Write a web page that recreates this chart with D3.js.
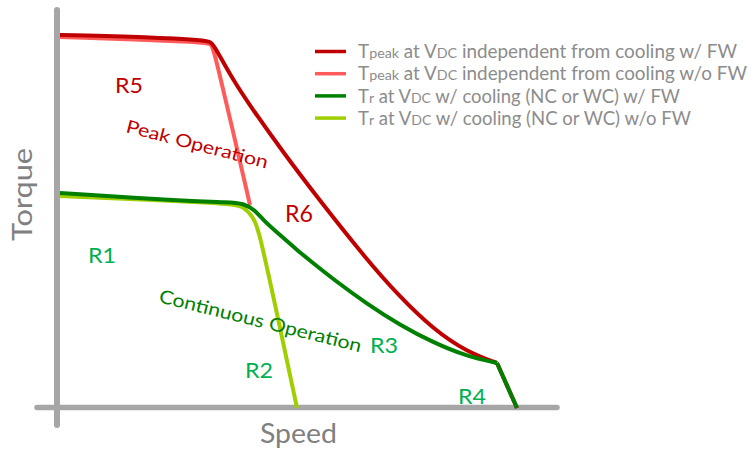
<!DOCTYPE html>
<html>
<head>
<meta charset="utf-8">
<script src="https://cdn.jsdelivr.net/npm/d3@7"></script>
<style>
  html, body { margin: 0; padding: 0; background: #ffffff; }
  svg { display: block; }
  text { font-family: Lato, "Open Sans", sans-serif; }
</style>
</head>
<body>
<svg id="chart" width="751" height="452"></svg>
<script>
// ---- data (speed, torque) in arbitrary chart units ----
const peakWithFW = [[0,373],[90,371],[145,367.7],[151,366],[155,361],[173,328],[193,298],[223,256],[257,211],[307,148],[340,111],[373,79],[407,56],[437,45],[457,0]];
const peakWithoutFW = [[0,371],[145,366],[151,364],[154,359],[190,203]];
const ratedWithFW = [[0,215],[120,207.3],[170,205.7],[183,204.7],[195,198],[203,188],[220,173],[237,158],[253,145],[273,129],[307,104],[340,83],[373,65.5],[407,51.6],[437,45],[457,0]];
const ratedWithoutFW = [[0,212],[170,204.7],[183,202],[193,191],[198,181],[212,118],[237,0]];

const legendMain = ["T", "T", "T", "T"];
const legendSub = ["peak", "peak", "r", "r"];
const legendRest = [
  " independent from cooling w/ FW",
  " independent from cooling w/o FW",
  " w/ cooling (NC or WC) w/ FW",
  " w/ cooling (NC or WC) w/o FW"
];
const regionLabels = ["R1","R2","R3","R4","R5","R6"];
const regionPos = [[28,145],[185,30],[310,55],[398,4],[55,315],[225,186]];
const axisLabels = ["Speed", "Torque"];

// ---- layout ----
const svg = d3.select("#chart");
const x = d3.scaleLinear().domain([0, 500]).range([60, 560]);
const y = d3.scaleLinear().domain([0, 400]).range([408, 8]);

const axisColor = "#a6a6a6";
const colors = ["#c00000", "#ff5b5b", "#008000", "#9fcf00"];

// axes (plain lines, no ticks)
svg.append("line")
  .attr("x1", x(-23)).attr("x2", x(497))
  .attr("y1", y(0.5)).attr("y2", y(0.5))
  .attr("stroke", axisColor).attr("stroke-width", 5.5).attr("stroke-linecap", "round");
svg.append("line")
  .attr("x1", x(-3)).attr("x2", x(-3))
  .attr("y1", y(-17)).attr("y2", y(398))
  .attr("stroke", axisColor).attr("stroke-width", 6).attr("stroke-linecap", "round");

// curves
const smooth = d3.line().x(d => x(d[0])).y(d => y(d[1])).curve(d3.curveBasis);
const straight = d3.line().x(d => x(d[0])).y(d => y(d[1]));

const series = [
  { data: peakWithoutFW, color: colors[1], kink: false },
  { data: peakWithFW, color: colors[0], kink: true },
  { data: ratedWithoutFW, color: colors[3], kink: false },
  { data: ratedWithFW, color: colors[2], kink: true }
];
series.forEach(s => {
  const n = s.data.length;
  const body = s.kink ? s.data.slice(0, n - 1) : s.data;
  svg.append("path").attr("d", smooth(body))
    .attr("fill", "none").attr("stroke", s.color).attr("stroke-width", 4)
    .attr("stroke-linejoin", "round").attr("stroke-linecap", "butt");
  if (s.kink) {
    svg.append("path").attr("d", straight(s.data.slice(n - 2)))
      .attr("fill", "none").attr("stroke", s.color).attr("stroke-width", 4)
      .attr("stroke-linejoin", "round");
  }
});

// region labels
const regionColors = ["#00b050","#00b050","#00b050","#00b050","#c00000","#c00000"];
const regionSizes = [22,22,22,22,22,23];
regionLabels.forEach((t, i) => {
  svg.append("text")
    .attr("x", x(regionPos[i][0])).attr("y", y(regionPos[i][1]))
    .attr("fill", regionColors[i]).attr("font-size", regionSizes[i])
    .attr("textLength", 28).attr("lengthAdjust", "spacingAndGlyphs")
    .text(t);
});

// rotated operation labels
svg.append("text")
  .attr("transform", `translate(${x(65)},${y(276)}) rotate(14.5)`)
  .attr("fill", "#c00000").attr("font-size", 18)
  .attr("textLength", 146).attr("lengthAdjust", "spacingAndGlyphs")
  .text("Peak Operation");
svg.append("text")
  .attr("transform", `translate(${x(98)},${y(106)}) rotate(14)`)
  .attr("fill", "#008000").attr("font-size", 18.5)
  .attr("textLength", 208).attr("lengthAdjust", "spacingAndGlyphs")
  .text("Continuous Operation");

// axis titles
svg.append("text")
  .attr("x", 260).attr("y", 443)
  .attr("fill", "#808080").attr("font-size", 26)
  .attr("textLength", 77).attr("lengthAdjust", "spacingAndGlyphs")
  .text(axisLabels[0]);
svg.append("text")
  .attr("transform", "translate(32,241) rotate(-90)")
  .attr("fill", "#808080").attr("font-size", 26)
  .attr("textLength", 93).attr("lengthAdjust", "spacingAndGlyphs")
  .text(axisLabels[1]);

// legend
const legendWidths = [379, 389, 322, 333];
const lg = svg.append("g");
legendRest.forEach((rest, i) => {
  const ly = 51.5 + i * 22.2;
  lg.append("line")
    .attr("x1", 315).attr("x2", 346).attr("y1", ly).attr("y2", ly)
    .attr("stroke", colors[i]).attr("stroke-width", 3.5);
  const t = lg.append("text")
    .attr("x", 358).attr("y", ly + 6.6)
    .attr("fill", "#8c8c8c").attr("font-size", 18.5)
    .attr("textLength", legendWidths[i]).attr("lengthAdjust", "spacingAndGlyphs");
  t.append("tspan").text(legendMain[i]);
  t.append("tspan").attr("font-size", 14).text(legendSub[i]);
  t.append("tspan").text(" at V");
  t.append("tspan").attr("font-size", 14).text("DC");
  t.append("tspan").text(rest);
});
</script>
</body>
</html>
